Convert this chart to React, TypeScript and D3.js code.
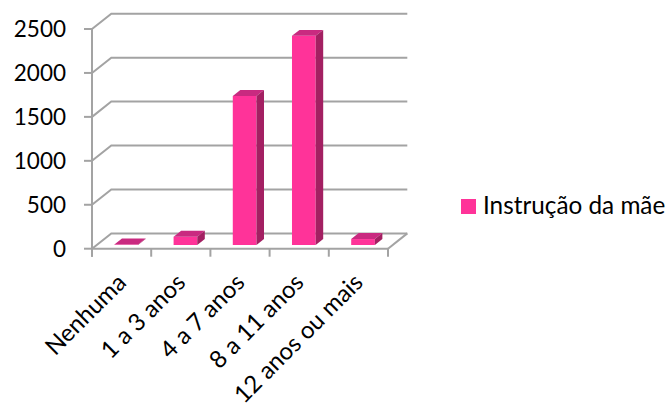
import React from "react";
import * as d3 from "d3";

// Number of births by mother's schooling
const categories: string[] = ["Nenhuma", "1 a 3 anos", "4 a 7 anos", "8 a 11 anos", "12 anos ou mais"];
const values: number[] = [5, 94, 1695, 2380, 68];
const yTicks: number[] = [0, 500, 1000, 1500, 2000, 2500];
const seriesName = "Instrução da mãe";

const W = 671;
const H = 405;
const FONT = "Lato, 'Carlito', Calibri, sans-serif";

// front plane of the 3D box
const plot = { left: 92, right: 388, top: 29, bottom: 248.7 };
// depth vector from front plane to back wall
const depth = { dx: 19.3, dy: -15.3 };
// bars occupy this slice of the depth
const barDepth = { from: 0.24, to: 0.63 };

const colors = {
  grid: "#a3a3a3",
  front: "#ff3399",
  top: "#c92a80",
  side: "#a32062",
  text: "#000000",
};

export default function App() {
  const x = d3
    .scaleBand<string>()
    .domain(categories)
    .range([plot.left, plot.right])
    .paddingInner(0.6)
    .paddingOuter(0.3);
  const y = d3.scaleLinear().domain([0, 2500]).range([plot.bottom, plot.top]);
  const step = x.step();

  const at = (px: number, py: number, f: number): [number, number] => [px + depth.dx * f, py + depth.dy * f];
  const poly = (pts: [number, number][]) => pts.map((p) => p.join(",")).join(" ");

  const boundaries = d3.range(categories.length + 1).map((i) => plot.left + i * step);

  return (
    <svg
      width={W}
      height={H}
      style={{ position: "absolute", left: 0, top: 0, background: "#fff" }}
      fontFamily={FONT}
    >
      <rect x={0} y={0} width={W} height={H} fill="#fff" />

      {/* left wall diagonals and back gridlines */}
      <g stroke={colors.grid} strokeWidth={2} fill="none">
        {yTicks.map((t) => {
          const yy = y(t);
          const [bx, by] = at(plot.left, yy, 1);
          const [ex] = at(plot.right, yy, 1);
          return (
            <g key={t}>
              <line x1={plot.left - 8} y1={yy} x2={plot.left} y2={yy} />
              <polyline points={poly([[plot.left, yy], [bx, by], [ex, by]])} />
            </g>
          );
        })}
        {/* vertical axis */}
        <line x1={plot.left} y1={y(2500)} x2={plot.left} y2={plot.bottom + 8} />
        {/* floor front edge and right edge */}
        <line x1={plot.left} y1={plot.bottom} x2={plot.right} y2={plot.bottom} />
        <line
          x1={plot.right}
          y1={plot.bottom}
          x2={at(plot.right, plot.bottom, 1)[0]}
          y2={at(plot.right, plot.bottom, 1)[1]}
        />
        {/* category ticks */}
        {boundaries.map((bx, i) => (
          <line key={i} x1={bx} y1={plot.bottom} x2={bx} y2={plot.bottom + 8} />
        ))}
      </g>

      {/* bars */}
      {categories.map((c, i) => {
        const x0 = x(c)!;
        const x1 = x0 + x.bandwidth();
        const v = values[i];
        const f0 = barDepth.from;
        const f1 = barDepth.to;
        const fb = at(x0, y(0), f0);
        const fr = at(x1, y(0), f0);
        const ft = at(x0, y(v), f0);
        const ftr = at(x1, y(v), f0);
        const bt = at(x0, y(v), f1);
        const btr = at(x1, y(v), f1);
        const bbr = at(x1, y(0), f1);
        return (
          <g key={c}>
            <polygon points={poly([fb, fr, ftr, ft])} fill={colors.front} />
            <polygon points={poly([ft, ftr, btr, bt])} fill={colors.top} />
            <polygon points={poly([fr, bbr, btr, ftr])} fill={colors.side} />
          </g>
        );
      })}

      {/* value axis labels */}
      {yTicks.map((t) => (
        <text
          key={t}
          x={66}
          y={y(t)}
          dy="0.36em"
          textAnchor="end"
          fontSize={22.5}
          fill={colors.text}
        >
          {t}
        </text>
      ))}

      {/* category labels */}
      {categories.map((c) => {
        const cx = x(c)! + x.bandwidth() / 2;
        const ax = cx + 6;
        const ay = 284;
        return (
          <text
            key={c}
            x={ax}
            y={ay}
            textAnchor="end"
            fontSize={24}
            fill={colors.text}
            transform={`rotate(-45 ${ax} ${ay})`}
          >
            {c}
          </text>
        );
      })}

      {/* legend */}
      <rect x={461} y={199} width={15} height={15} fill={colors.front} />
      <text x={483} y={213.5} fontSize={24.3} fill={colors.text}>
        {seriesName}
      </text>
    </svg>
  );
}
